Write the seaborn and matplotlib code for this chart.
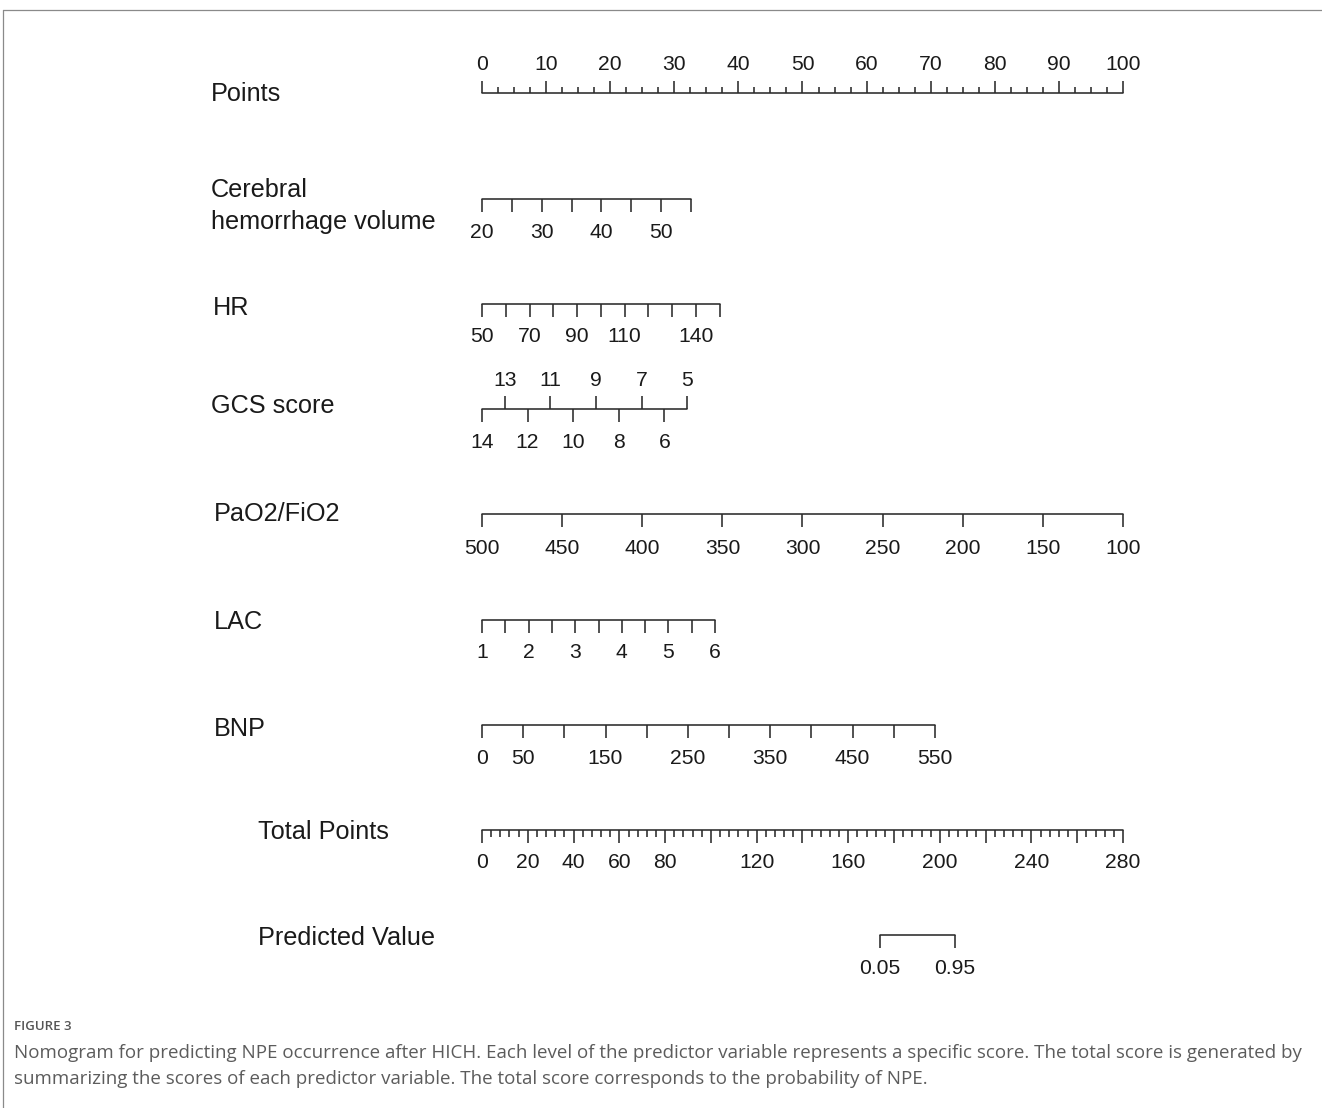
import numpy as np
import pandas as pd
import matplotlib
matplotlib.use("Agg")
import matplotlib.pyplot as plt
import seaborn as sns

# ---------------- model / scale data ----------------
# Points contributed per unit of each predictor (reference value gets 0 points)
volume_ref, volume_pts_per_unit = 20, 0.931
hr_ref, hr_pts_per_unit = 50, 0.371
gcs_ref, gcs_pts_per_unit = 14, -3.556
pf_ref, pf_pts_per_unit = 500, -0.25
lac_ref, lac_pts_per_unit = 1, 7.27
bnp_ref, bnp_pts_per_unit = 0, 0.1285

# Logistic link: linear predictor = b0 + b1 * total points
lp_intercept = -34.18
lp_slope = 0.1797

points_ticks = np.arange(0, 100.1, 2.5)
points_labels = [0, 10, 20, 30, 40, 50, 60, 70, 80, 90, 100]

volume_ticks = [20, 25, 30, 35, 40, 45, 50, 55]
volume_labels = [20, 30, 40, 50]

hr_ticks = [50, 60, 70, 80, 90, 100, 110, 120, 130, 140, 150]
hr_labels = [50, 70, 90, 110, 140]

gcs_upper = [13, 11, 9, 7, 5]
gcs_lower = [14, 12, 10, 8, 6]

pf_ticks = [500, 450, 400, 350, 300, 250, 200, 150, 100]
pf_labels = [500, 450, 400, 350, 300, 250, 200, 150, 100]

lac_ticks = [1, 1.5, 2, 2.5, 3, 3.5, 4, 4.5, 5, 5.5, 6]
lac_labels = [1, 2, 3, 4, 5, 6]

bnp_ticks = [0, 50, 100, 150, 200, 250, 300, 350, 400, 450, 500, 550]
bnp_labels = [0, 50, 150, 250, 350, 450, 550]

total_minor = np.arange(0, 281, 4)
total_major = np.arange(0, 281, 20)
total_labels = [0, 20, 40, 60, 80, 120, 160, 200, 240, 280]
total_max = 280

pred_ticks = [0.05, 0.95]
pred_labels = ["0.05", "0.95"]

row_names = ["Points", "Cerebral\nhemorrhage volume", "HR", "GCS score",
             "PaO2/FiO2", "LAC", "BNP", "Total Points", "Predicted Value"]

# ---------------- layout (figure pixels) ----------------
W, H = 1322, 1108
X0, PX_PER_PT = 482, 6.41          # pixel x of 0 points, pixels per point
DY = 2                              # text baseline nudge

sns.set_theme(style="white")
plt.rcParams["font.family"] = ["Liberation Sans", "DejaVu Sans"]

fig = plt.figure(figsize=(W / 100, H / 100), dpi=100)
ax = fig.add_axes([0, 0, 1, 1])
ax.set_xlim(-X0 / PX_PER_PT, (W - X0) / PX_PER_PT)
ax.set_ylim(H, 0)
ax.axis("off")

LC = "#2b2b2b"
LW = 1.15
TICK_FS = 15.2
LABEL_FS = 18.2
TL = 13


def baseline(x0, x1, y):
    df = pd.DataFrame({"x": [x0, x1], "y": [y, y]})
    sns.lineplot(data=df, x="x", y="y", ax=ax, color=LC, lw=LW,
                 estimator=None, sort=False, legend=False)


def ticks(xs, y, length):
    ax.vlines(xs, y, y + length, color=LC, lw=LW)


def labels(xs, texts, y):
    for x, t in zip(xs, texts):
        ax.text(x, y + DY, str(t), ha="center", va="center", fontsize=TICK_FS,
                color="#1a1a1a")


def to_pts(vals, ref, slope):
    return [(v - ref) * slope for v in vals]


# Points
yb = 93
baseline(0, 100, yb)
major = [p for p in points_ticks if p % 10 == 0]
minor = [p for p in points_ticks if p % 10 != 0]
ticks(major, yb, -12.5)
ticks(minor, yb, -6.5)
labels(points_labels, points_labels, 63)

# Cerebral hemorrhage volume
y = 198.5
xs = to_pts(volume_ticks, volume_ref, volume_pts_per_unit)
baseline(min(xs), max(xs), y)
ticks(xs, y, TL)
labels(to_pts(volume_labels, volume_ref, volume_pts_per_unit), volume_labels, 230)

# HR
y = 303.5
xs = to_pts(hr_ticks, hr_ref, hr_pts_per_unit)
baseline(min(xs), max(xs), y)
ticks(xs, y, TL)
labels(to_pts(hr_labels, hr_ref, hr_pts_per_unit), hr_labels, 335)

# GCS score (odd values above the line, even values below)
y = 408.5
xu = to_pts(gcs_upper, gcs_ref, gcs_pts_per_unit)
xl = to_pts(gcs_lower, gcs_ref, gcs_pts_per_unit)
baseline(min(xl + xu), max(xl + xu), y)
ticks(xu, y, -TL)
ticks(xl, y, TL)
labels(xu, gcs_upper, 379)
labels(xl, gcs_lower, 440)

# PaO2/FiO2
y = 514
xs = to_pts(pf_ticks, pf_ref, pf_pts_per_unit)
baseline(min(xs), max(xs), y)
ticks(xs, y, TL)
labels(to_pts(pf_labels, pf_ref, pf_pts_per_unit), pf_labels, 546)

# LAC
y = 619.5
xs = to_pts(lac_ticks, lac_ref, lac_pts_per_unit)
baseline(min(xs), max(xs), y)
ticks(xs, y, TL)
labels(to_pts(lac_labels, lac_ref, lac_pts_per_unit), lac_labels, 651)

# BNP
y = 724.5
xs = to_pts(bnp_ticks, bnp_ref, bnp_pts_per_unit)
baseline(min(xs), max(xs), y)
ticks(xs, y, TL)
labels(to_pts(bnp_labels, bnp_ref, bnp_pts_per_unit), bnp_labels, 756)

# Total points (own scale: 0..280 spans the same width as 0..100 points)
y = 830
scale = 100 / total_max
baseline(0, total_max * scale, y)
ticks([t * scale for t in total_minor if t % 20 != 0], y, 6.5)
ticks([t * scale for t in total_major], y, 13)
labels([t * scale for t in total_labels], total_labels, 861)

# Predicted value
y = 934.5
pred_total = [(np.log(p / (1 - p)) - lp_intercept) / lp_slope for p in pred_ticks]
xs = [t * scale for t in pred_total]
baseline(min(xs), max(xs), y)
ticks(xs, y, TL)
labels(xs, pred_labels, 966)

# Row labels
row_pos = [(211, 92), (211, 204), (213, 306), (211, 404), (214, 512),
           (214, 620), (214, 727), (258, 830), (258, 936)]
for name, (px, py) in zip(row_names, row_pos):
    fig.text(px / W, 1 - (py + DY) / H, name, ha="left", va="center",
             fontsize=LABEL_FS, color="#1a1a1a", linespacing=1.4)

# Frame lines (top and left)
fig.add_artist(plt.Line2D([3 / W, 1], [1 - 10 / H, 1 - 10 / H],
                          transform=fig.transFigure, color="#8a8a8a", lw=0.9))
fig.add_artist(plt.Line2D([3 / W, 3 / W], [0, 1 - 10 / H],
                          transform=fig.transFigure, color="#8a8a8a", lw=0.9))

# Caption
cap_font = ["Open Sans", "DejaVu Sans"]
fig.text(14 / W, 1 - 1027 / H, "FIGURE 3", ha="left", va="center",
         fontsize=9.5, color="#555555", family=cap_font, fontweight="semibold")
line1 = ("Nomogram for predicting NPE occurrence after HICH. Each level of the predictor "
         "variable represents a specific score. The total score is generated by")
line2 = ("summarizing the scores of each predictor variable. The total score corresponds "
         "to the probability of NPE.")
t1 = fig.text(14 / W, 1 - 1053 / H, line1, ha="left", va="center",
              fontsize=13, color="#5c5c5c", family=cap_font)
t2 = fig.text(14 / W, 1 - 1079 / H, line2, ha="left", va="center",
              fontsize=13, color="#5c5c5c", family=cap_font)
fig.canvas.draw()
w1 = t1.get_window_extent().width
fs = 13 * 1284 / w1
t1.set_fontsize(fs)
t2.set_fontsize(fs)

fig.savefig("out.png", dpi=100, facecolor="white")
